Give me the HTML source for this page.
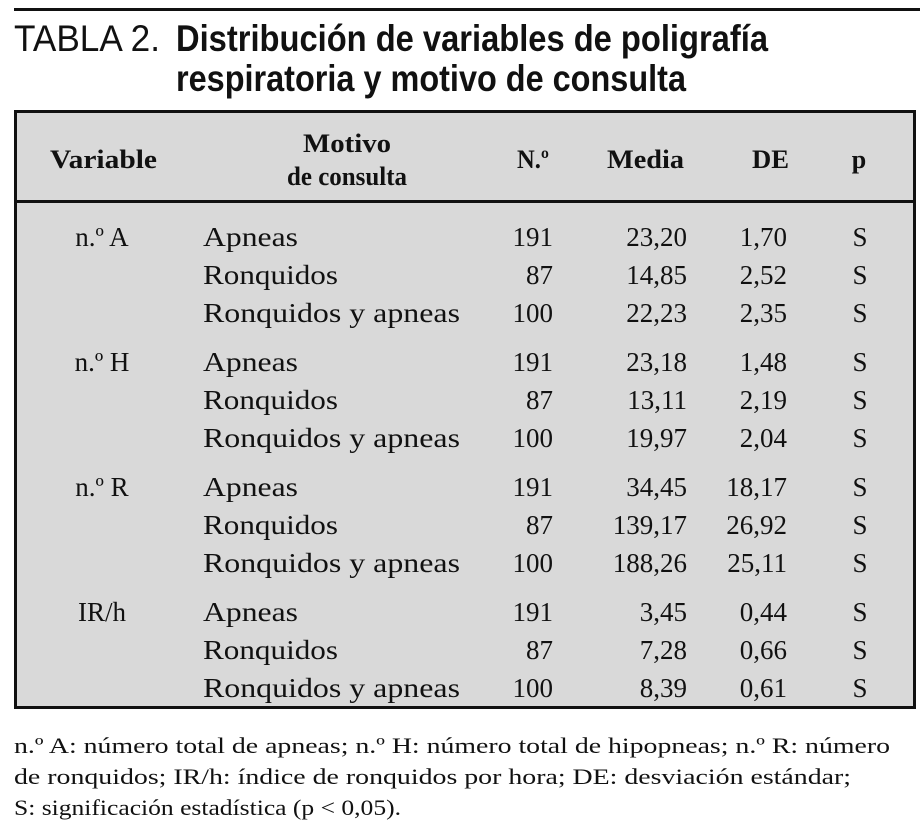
<!DOCTYPE html>
<html><head><meta charset="utf-8"><style>
html,body{margin:0;padding:0;background:#fff;}
svg{display:block;}
.ser{font-family:"Liberation Serif",serif;fill:#111;}
.sans{font-family:"Liberation Sans",sans-serif;fill:#111;}
</style></head><body>
<svg id="tbl" width="920" height="829" viewBox="0 0 920 829" xmlns="http://www.w3.org/2000/svg">
  <rect x="14" y="8" width="906" height="3" fill="#111"/>
  <text class="sans" x="14" y="51" font-size="37" font-weight="300" textLength="146" lengthAdjust="spacingAndGlyphs">TABLA 2.</text>
  <text class="sans" x="176" y="51" font-size="37" font-weight="bold" textLength="592" lengthAdjust="spacingAndGlyphs">Distribución de variables de poligrafía</text>
  <text class="sans" x="176" y="91" font-size="37" font-weight="bold" textLength="510" lengthAdjust="spacingAndGlyphs">respiratoria y motivo de consulta</text>
  <rect x="15.5" y="111.5" width="899" height="596" fill="#d9d9d9" stroke="#111" stroke-width="3"/>
  <rect x="14" y="200" width="902" height="3" fill="#111"/>
  <g class="ser" font-weight="bold" font-size="26">
    <text x="50" y="168" textLength="107" lengthAdjust="spacingAndGlyphs">Variable</text>
    <text x="347" y="152" text-anchor="middle" textLength="88" lengthAdjust="spacingAndGlyphs">Motivo</text>
    <text x="287" y="185" textLength="120" lengthAdjust="spacingAndGlyphs">de consulta</text>
    <text x="517" y="168" textLength="32" lengthAdjust="spacingAndGlyphs">N.º</text>
    <text x="607" y="168" textLength="77" lengthAdjust="spacingAndGlyphs">Media</text>
    <text x="752" y="168" textLength="37" lengthAdjust="spacingAndGlyphs">DE</text>
    <text x="859" y="168" text-anchor="middle">p</text>
  </g>
  <g id="rows" class="ser" font-size="27"></g>
  <g class="ser" font-size="22">
    <text x="14" y="753" textLength="876" lengthAdjust="spacingAndGlyphs">n.º A: número total de apneas; n.º H: número total de hipopneas; n.º R: número</text>
    <text x="14" y="784" textLength="837" lengthAdjust="spacingAndGlyphs">de ronquidos; IR/h: índice de ronquidos por hora; DE: desviación estándar;</text>
    <text x="14" y="815" textLength="387" lengthAdjust="spacingAndGlyphs">S: significación estadística (p &lt; 0,05).</text>
  </g>
</svg>
<script>
const variables = ["n.º A", "n.º H", "n.º R", "IR/h"];
const motivos = ["Apneas", "Ronquidos", "Ronquidos y apneas"];
const counts = [191, 87, 100];
const medias = [["23,20","14,85","22,23"],["23,18","13,11","19,97"],["34,45","139,17","188,26"],["3,45","7,28","8,39"]];
const des = [["1,70","2,52","2,35"],["1,48","2,19","2,04"],["18,17","26,92","25,11"],["0,44","0,66","0,61"]];
const pvals = ["S","S","S"];

const NS = "http://www.w3.org/2000/svg";
const g = document.getElementById("rows");
const labelW = {"Apneas":95,"Ronquidos":135,"Ronquidos y apneas":257};
function t(x, y, s, anchor, name, tl) {
  const e = document.createElementNS(NS, "text");
  e.setAttribute("x", x);
  e.setAttribute("y", y);
  if (anchor) e.setAttribute("text-anchor", anchor);
  if (tl) { e.setAttribute("textLength", tl); e.setAttribute("lengthAdjust", "spacingAndGlyphs"); }
  e.textContent = s;
  
  
  g.appendChild(e);
  return e;
}
variables.forEach((v, gi) => {
  const y0 = 246 + gi * 125;
  t(102, y0, v, "middle", "variable-label");
  motivos.forEach((m, ri) => {
    const y = y0 + ri * 38;
    t(203, y, m, null, "motivo-label", labelW[m]);
    t(553, y, String(counts[ri]), "end", "n-value");
    t(687, y, medias[gi][ri], "end", "media-value");
    t(787, y, des[gi][ri], "end", "de-value");
    t(860, y, pvals[ri], "middle", "p-value");
  });
});
</script>
</body></html>
